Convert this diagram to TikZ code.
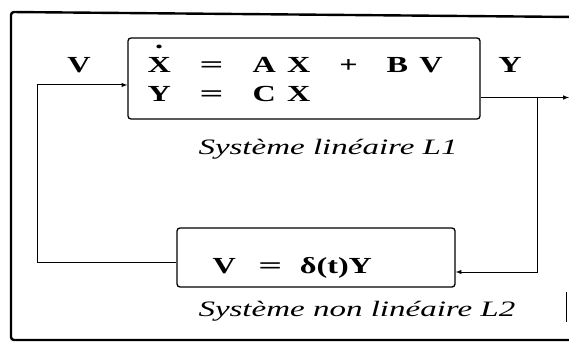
\documentclass[tikz,border=0pt]{standalone}
\usepackage{fontspec}
\setmainfont{Liberation Serif}
\usepackage{graphicx}
\usetikzlibrary{positioning}
% breite Schrift wie im Original
\newcommand{\breit}[1]{\scalebox{1.4}[1]{#1}}
\newcommand{\schraeg}[1]{\scalebox{1.5}[1]{#1}}
\newcommand{\xpunkt}{\ooalign{X\cr\hidewidth\raisebox{1.05em}{.}\hidewidth\cr}}
\newcommand{\gleich}{\scalebox{1.3}[1]{=}}
\newcommand{\abst}{\hspace{0.9em}}
\newcommand{\eng}{\hspace{0.35em}}
\tikzset{
  block/.style={draw, line width=1.3pt, rounded corners=3pt, inner sep=0pt},
  gleichung/.style={font=\fontsize{23}{26}\selectfont\bfseries, inner sep=0pt},
  titel/.style={font=\fontsize{22}{26}\selectfont\itshape, inner sep=0pt}
}
\begin{document}
\begin{tikzpicture}[>=latex, x=1pt, y=-1pt, line width=1pt]
\useasboundingbox (0,0) rectangle (569,347);
% Rahmen
\draw[line width=2.4pt, rounded corners=3pt] (575,17) -- (11,12) -- (11,340) -- (575,340);
\draw[line width=1pt] (566,292) -- (566,322);
% Bloecke
\node[block, minimum width=352pt, minimum height=81pt] (L1) at (304,78.5) {};
\node[block, minimum width=278pt, minimum height=59pt] (L2) at (316,257.5) {};
% Gleichungen
\node[gleichung, anchor=base west] (g1) at (147,73)
  {\breit{\xpunkt\abst\gleich\abst A\eng X\abst+\abst B\eng V}};
\node[gleichung, anchor=base west] (g2) at (147,102)
  {\breit{Y\abst\gleich\abst C\eng X}};
\node[gleichung, anchor=base west] (g3) at (212,273)
  {\breit{V\hspace{0.7em}\gleich\hspace{0.55em}δ(t)Y}};
% Signale
\node[gleichung, anchor=base] (V) at (79,73) {\breit{V}};
\node[gleichung, anchor=base] (Y) at (510,73) {\breit{Y}};
% Beschriftungen
\node[titel, anchor=base west] (t1) at (198,155) {\schraeg{Système linéaire L1}};
\node[titel, anchor=base west] (t2) at (198,316) {\schraeg{Système non linéaire L2}};
% Verbindungen
\coordinate (ein) at ([yshift=-6.5pt]L1.west);
\coordinate (aus) at ([yshift=-19pt]L1.east);
\coordinate (J)   at (537,0 |- aus);
\coordinate (E)   at (569,0 |- aus);
\coordinate (r2)  at ([yshift=-14.5pt]L2.east);
\coordinate (l2)  at ([yshift=-4.5pt]L2.west);
\draw[->] (aus) -- (E);
\draw[->] (J) |- (r2);
\draw[->] (l2) -| (37,0 |- ein) -- (ein);
\end{tikzpicture}
\end{document}
